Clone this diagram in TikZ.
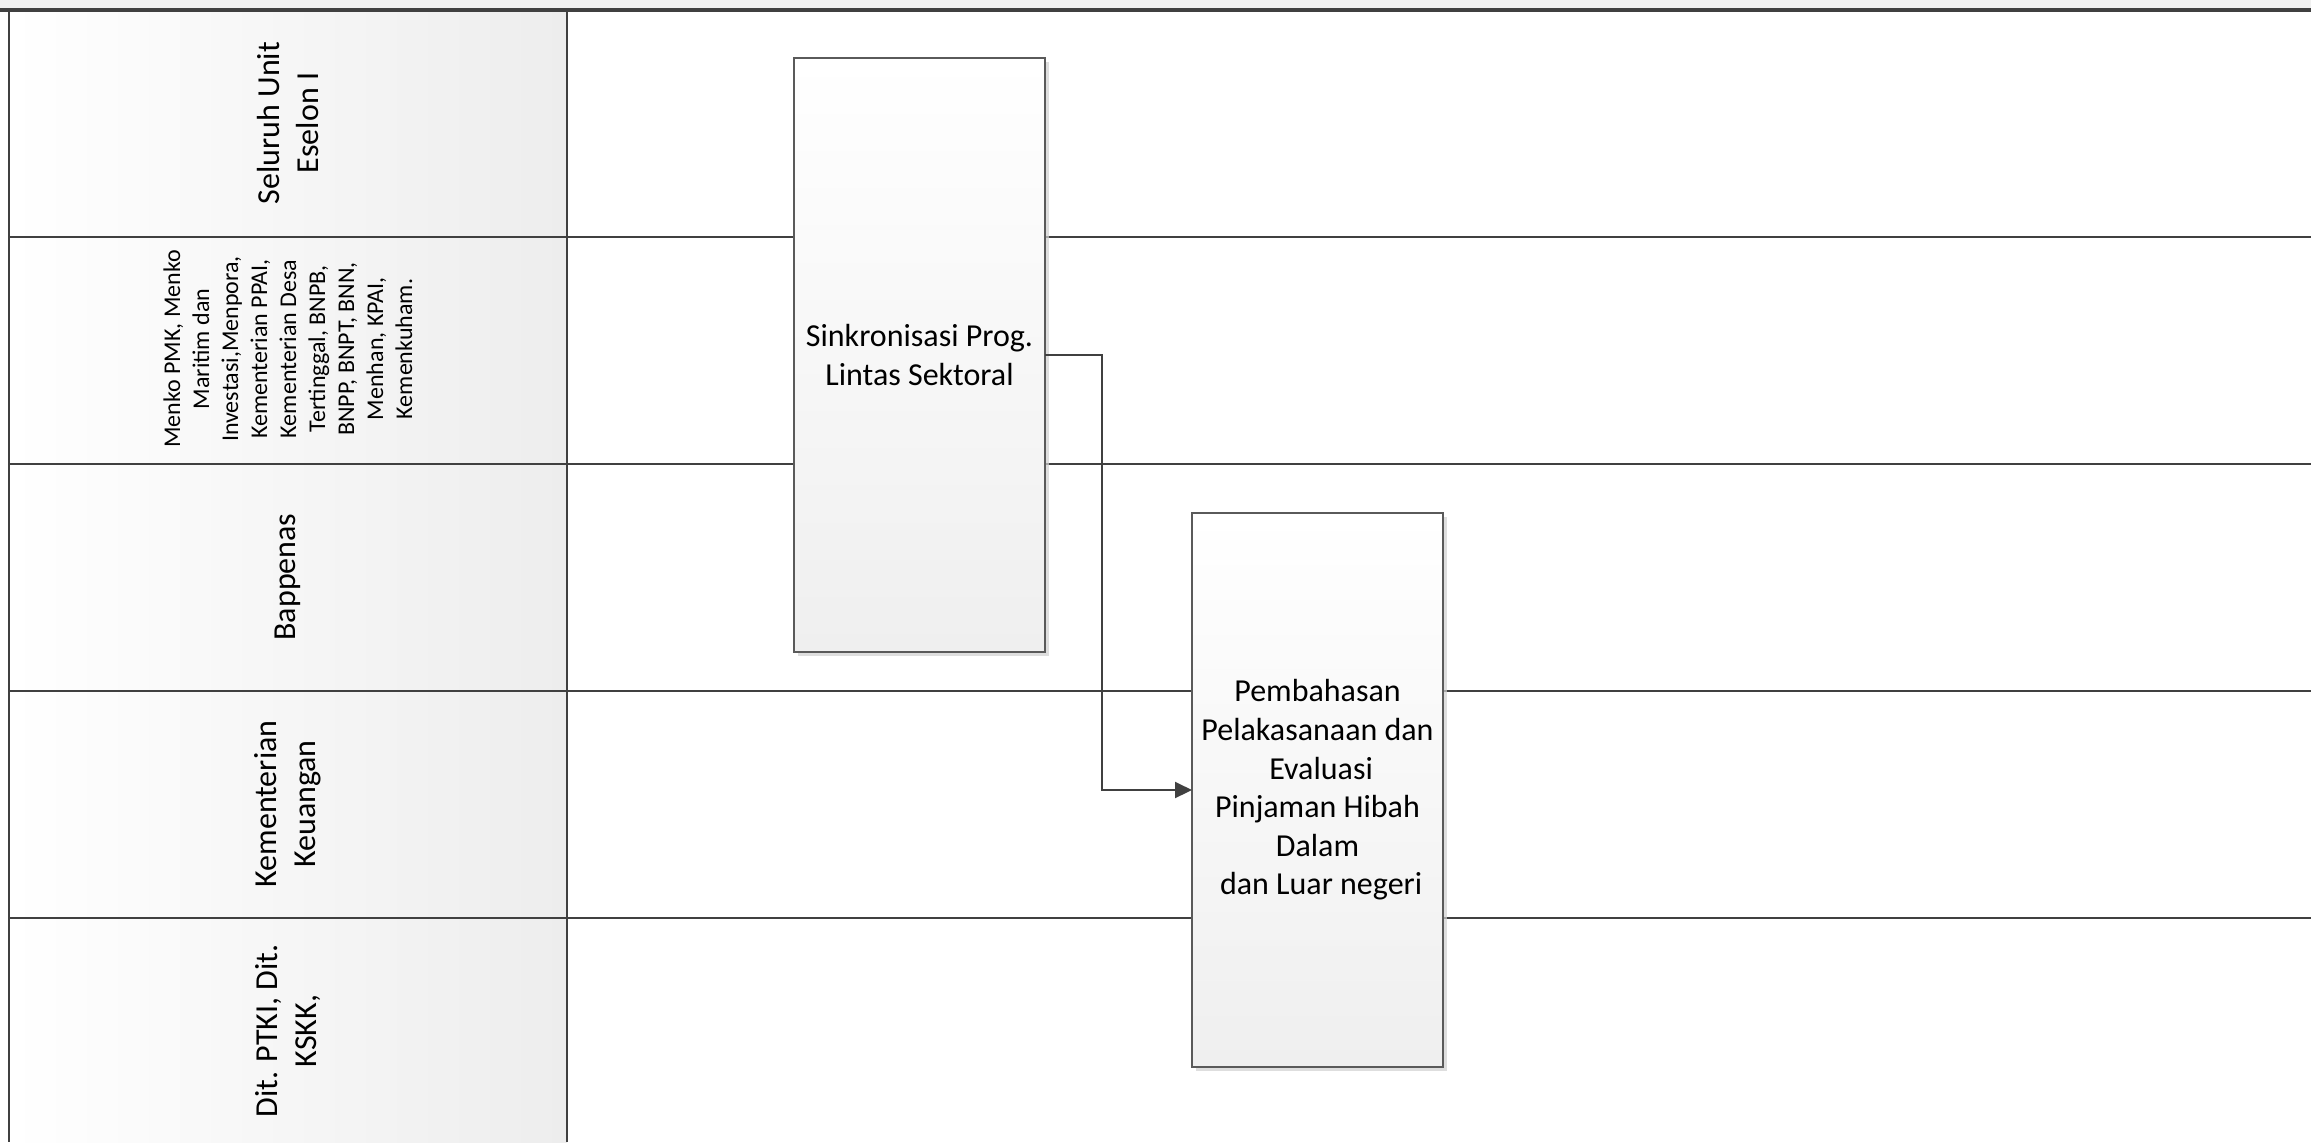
\documentclass[tikz,border=0pt]{standalone}
\usepackage{fontspec}
\setmainfont{Carlito}
\usetikzlibrary{arrows.meta,shadows}
\definecolor{linec}{HTML}{404040}
\definecolor{boxline}{HTML}{5A5A5A}
\definecolor{hdrgray}{HTML}{EDEDED}
\definecolor{topgray}{HTML}{F0F0F0}
\definecolor{boxgray}{HTML}{EFEFEF}
\tikzset{
  laneline/.style={draw=linec,line width=1.2pt},
  lanelabel/.style={rotate=90,align=center,inner sep=0pt,font=\fontsize{16}{19.3}\selectfont},
  smalllabel/.style={rotate=90,align=center,inner sep=0pt,font=\fontsize{12}{14.5}\selectfont},
  procbox/.style={draw=boxline,line width=0.6pt,top color=white,bottom color=boxgray,
    minimum width=125.5pt,inner sep=0pt,outer sep=0pt,align=center,
    font=\fontsize{16}{19.3}\selectfont,
    drop shadow={shadow xshift=2pt,shadow yshift=-2pt,fill=black!18,opacity=0.7}},
  conn/.style={draw=linec,line width=1pt,-{Triangle[length=8.5pt,width=8pt]}}
}
\begin{document}
\begin{tikzpicture}[x=0.5pt,y=-0.5pt]
\useasboundingbox (0,0) rectangle (2311,1142);
\fill[white] (0,0) rectangle (2311,1142);
\fill[topgray] (0,0) rectangle (2311,10);
\shade[left color=white,right color=hdrgray] (9,10) rectangle (567,1142);
% lane labels
\node[lanelabel] (l1) at (288,123) {Seluruh Unit\\Eselon I};
\node[smalllabel] (l2) at (288,349) {Menko PMK, Menko\\Maritim dan\\Investasi,Menpora,\\Kementerian PPAI,\\Kementerian Desa\\Tertinggal, BNPB,\\BNPP, BNPT, BNN,\\Menhan, KPAI,\\Kemenkuham.};
\node[lanelabel] (l3) at (288,577) {Bappenas};
\node[lanelabel] (l4) at (288,804) {Kementerian\\Keuangan};
\node[lanelabel] (l5) at (288,1031) {Dit. PTKI, Dit.\\KSKK,};
% lane lines
\draw[laneline,line width=1.6pt] (0,10) -- (2311,10);
\foreach \yy in {237,464,691,918} { \draw[laneline] (9,\yy) -- (2311,\yy); }
\draw[laneline] (9,10) -- (9,1142);
\draw[laneline] (567,10) -- (567,1142);
% process boxes
\node[procbox,minimum height=297pt] (s) at (919.5,355) {Sinkronisasi Prog.\\Lintas Sektoral};
\node[procbox,minimum height=277pt] (p) at (1317.5,790) {Pembahasan\\Pelakasanaan dan\\\hspace*{0.226em}Evaluasi\\Pinjaman Hibah\\Dalam\\\hspace*{0.226em}dan Luar negeri};
% connector
\draw[conn] (s.east) -- ([xshift=28.5pt]s.east) |- (p.west);
\end{tikzpicture}
\end{document}
